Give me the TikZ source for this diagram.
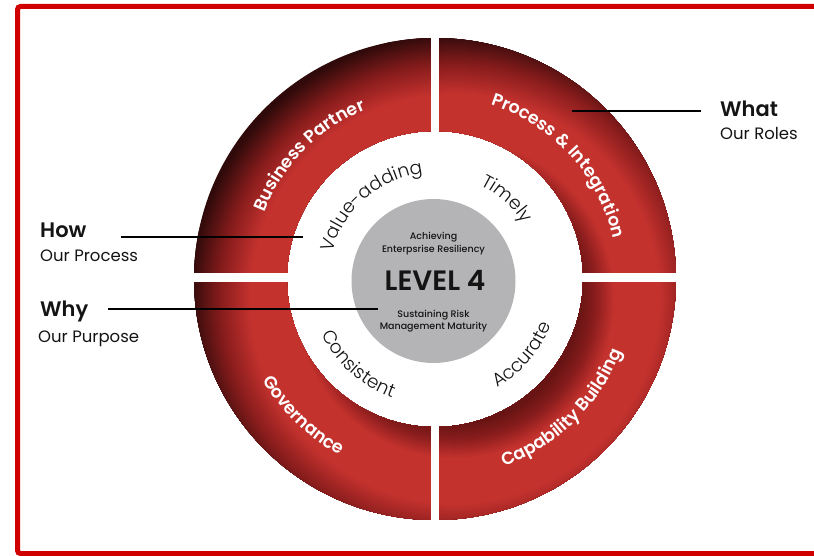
\documentclass[tikz,border=0pt]{standalone}
\usepackage{fontspec}
\setmainfont{Poppins}
\newfontfamily\plight{Poppins Light}
\newfontfamily\pmed{Poppins Medium}
\newfontfamily\psemi{Poppins SemiBold}
\usetikzlibrary{decorations.text,calc}
\definecolor{framered}{RGB}{208,0,0}
\definecolor{ringred}{RGB}{196,50,46}
\definecolor{ringmid}{RGB}{135,28,28}
\definecolor{ringinner}{RGB}{105,20,20}
\definecolor{ringdark}{RGB}{48,10,10}
\definecolor{coregray}{RGB}{180,180,182}
\definecolor{inktext}{RGB}{20,20,20}
\tikzset{
  ringlabel/.style={decorate, decoration={text along path, text align=center,
      text color=white, text={|\psemi\fontsize{17.5}{20}\selectfont|#1}}},
  innerlabel/.style={decorate, decoration={text along path, text align=center,
      text color=inktext, text={|\plight\fontsize{18.5}{22}\selectfont|#1}}},
  sidehead/.style={anchor=base west, inner sep=0pt, text=inktext, font=\psemi\fontsize{21}{24}\selectfont},
  sidesub/.style={anchor=base west, inner sep=0pt, text=inktext, font=\fontsize{16.5}{20}\selectfont},
  coresmall/.style={anchor=base, inner sep=0pt, text=inktext, font=\pmed\fontsize{9.5}{11}\selectfont},
  pointer/.style={line width=2pt, draw=black}
}
\begin{document}
\begin{tikzpicture}[x=1pt,y=1pt]
\useasboundingbox (0,0) rectangle (814,555);
\fill[white] (0,0) rectangle (814,555);
\coordinate (C) at (435,276);
\coordinate (S) at (455,256);
% frame
\draw[framered, line width=5pt, rounded corners=3pt] (17.5,1.5) rectangle (840,548.5);
% ring (stepped radial shading centred at S, clipped to the annulus)
\begin{scope}[even odd rule]
  \clip (C) circle (241) (C) circle (148);
  \fill[ringdark] (S) circle (300);
  \foreach \r in {265,264,...,235} {
    \pgfmathsetmacro{\p}{100*(\r-235)/30}
    \fill[ringdark!\p!ringmid] (S) circle (\r);
  }
  \foreach \r in {234,233,...,205} {
    \pgfmathsetmacro{\p}{100*(\r-205)/30}
    \fill[ringmid!\p!ringred] (S) circle (\r);
  }
  \fill[ringred] (S) circle (204);
  \foreach \r in {160,159,...,140} {
    \pgfmathsetmacro{\p}{100*(\r-140)/20}
    \fill[ringred!\p!ringmid] (S) circle (\r);
  }
  \foreach \r in {139,138,...,125} {
    \pgfmathsetmacro{\p}{100*(\r-125)/15}
    \fill[ringmid!\p!ringinner] (S) circle (\r);
  }
\end{scope}
\fill[white] (431,25) rectangle (439,530);
\fill[white] (185,273) rectangle (685,282);
% core
\node[circle, fill=coregray, minimum size=164pt, inner sep=0pt] (core) at (433.5,274) {};
\node[coresmall] (ach) at (433.5,315.5) {Achieving};
\node[coresmall] (ent) at (433.5,302.5) {Enterpsrise Resiliency};
\node[anchor=base, inner sep=0pt, text=inktext, font=\psemi\fontsize{28}{30}\selectfont] (lvl) at (435,265) {LEVEL 4};
\node[coresmall] (sus) at (433.5,237.5) {Sustaining Risk};
\node[coresmall] (mgm) at (433.5,225.5) {Management Maturity};
% ring labels
\path[ringlabel={Business Partner}] ($(C)+(195.5:183)$) arc[start angle=195.5, end angle=75.5, radius=183];
\path[ringlabel={Process {\&} Integration}] ($(C)+(102.5:183)$) arc[start angle=102.5, end angle=-17.5, radius=183];
\path[ringlabel={Governance}] ($(C)+(166:200)$) arc[start angle=166, end angle=286, radius=200];
\path[ringlabel={Capability Building}] ($(C)+(254.5:200)$) arc[start angle=254.5, end angle=374.5, radius=200];
% inner labels
\path[innerlabel={Value-adding}] ($(C)+(201:106)$) arc[start angle=201, end angle=61, radius=106];
\path[innerlabel={Timely}] ($(C)+(118:104)$) arc[start angle=118, end angle=-22, radius=104];
\path[innerlabel={Consistent}] ($(C)+(158:126)$) arc[start angle=158, end angle=298, radius=126];
\path[innerlabel={Accurate}] ($(C)+(249:125)$) arc[start angle=249, end angle=389, radius=125];
% side labels
\node[sidehead] (what) at (720,438) {What};
\node[sidesub] (roles) at (720,415) {Our Roles};
\node[sidehead] (how) at (40,317) {How};
\node[sidesub] (process) at (40,293) {Our Process};
\node[sidehead] (why) at (40,239) {Why};
\node[sidesub] (purpose) at (38,212) {Our Purpose};
\coordinate (whatA) at (701,444);
\coordinate (whatB) at (572,444);
\coordinate (howA) at (121,318);
\coordinate (howB) at (303,318);
\coordinate (whyA) at (108,246);
\coordinate (whyB) at (378,246);
\draw[pointer] (whatA) -- (whatB);
\draw[pointer] (howA) -- (howB);
\draw[pointer] (whyA) -- (whyB);
\end{tikzpicture}
\end{document}
